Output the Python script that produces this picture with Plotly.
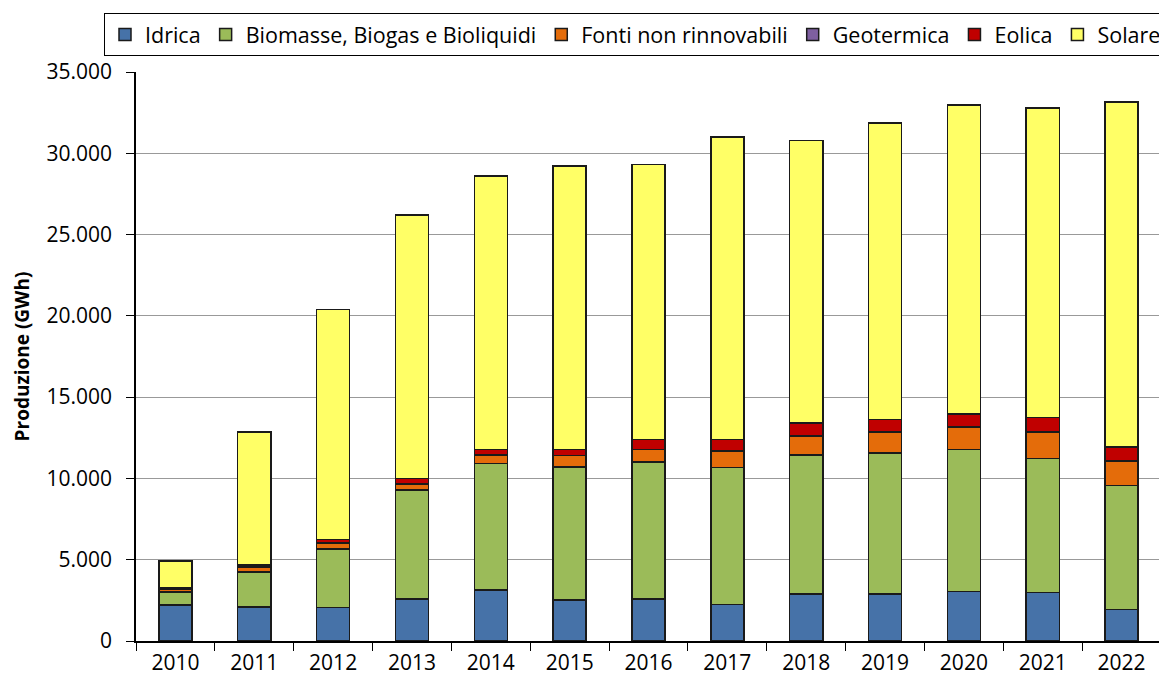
import plotly.graph_objects as go

years = ["2010", "2011", "2012", "2013", "2014", "2015", "2016", "2017", "2018", "2019", "2020", "2021", "2022"]
idrica = [2200, 2100, 2050, 2570, 3130, 2510, 2570, 2260, 2900, 2900, 3050, 2980, 1950]
biomasse = [800, 2150, 3600, 6730, 7800, 8190, 8430, 8420, 8540, 8660, 8720, 8250, 7600]
fonti_non_rinn = [200, 300, 370, 370, 510, 700, 770, 990, 1170, 1300, 1380, 1630, 1520]
geotermica = [10, 10, 10, 10, 10, 10, 10, 10, 10, 10, 10, 10, 10]
eolica = [90, 130, 200, 320, 340, 380, 630, 710, 800, 770, 790, 870, 850]
solare = [1610, 8170, 14160, 16210, 16810, 17430, 16890, 18620, 17360, 18230, 19010, 19060, 21240]

series = [
    ("Idrica", idrica, "#4672A8"),
    ("Biomasse, Biogas e Bioliquidi", biomasse, "#9BBB59"),
    ("Fonti non rinnovabili", fonti_non_rinn, "#E46C0A"),
    ("Geotermica", geotermica, "#7E5FA0"),
    ("Eolica", eolica, "#C00000"),
    ("Solare", solare, "#FFFF66"),
]

fig = go.Figure()
for name, vals, col in series:
    fig.add_trace(go.Bar(
        x=years, y=vals, name=name,
        marker=dict(color=col, line=dict(color="#1a1a1a", width=1.5)),
    ))

font = "'Open Sans', sans-serif"
# page body has an 8px margin, so the figure is sized to the remaining area
W, H = 1159, 674
L, R, T, B = 128, 6, 64, 41
plot_w = W - L - R
plot_h = H - T - B
fig.update_layout(
    barmode="stack",
    bargap=0.58,
    width=W, height=H,
    margin=dict(l=L, r=R, t=T, b=B, autoexpand=False),
    plot_bgcolor="white",
    paper_bgcolor="white",
    separators=",.",
    font=dict(family=font, size=21, color="black"),
    legend=dict(
        orientation="h",
        x=-32 / plot_w, xanchor="left",
        y=1 + 59 / plot_h, yanchor="top",
        bordercolor="black", borderwidth=1,
        font=dict(size=21.5),
        traceorder="normal",
        itemwidth=30,
        tracegroupgap=0,
    ),
    showlegend=True,
)
fig.update_xaxes(
    showline=True, linecolor="black", linewidth=1.5,
    ticks="outside", ticklen=8, tickcolor="black",
    tickson="boundaries",
    showgrid=False,
    tickfont=dict(size=21),
    ticklabelstandoff=2,
)
fig.update_yaxes(
    range=[0, 35000], dtick=5000,
    tickformat=",d",
    showline=True, linecolor="black", linewidth=1.5,
    ticks="outside", ticklen=8, tickcolor="black",
    showgrid=True, gridcolor="#999999", gridwidth=1,
    tickfont=dict(size=21),
    ticklabelstandoff=10,
    title=dict(text="<b>Produzione (GWh)</b>", font=dict(size=19), standoff=12),
)

fig.write_html("out.html")
